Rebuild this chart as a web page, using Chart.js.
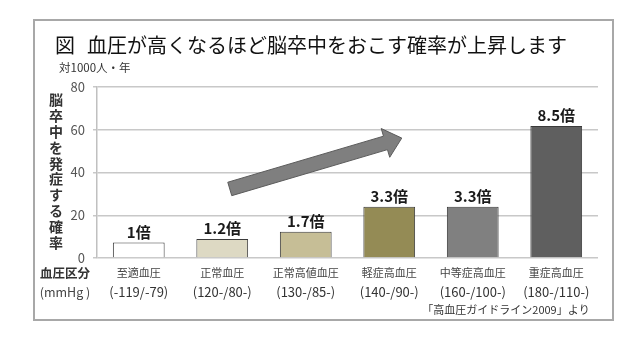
<!DOCTYPE html>
<html lang="ja">
<head>
<meta charset="utf-8">
<title>血圧と脳卒中の発症率</title>
<script src="https://cdn.jsdelivr.net/npm/chart.js@4.4.1/dist/chart.umd.min.js"></script>
<style>
  html, body { margin: 0; padding: 0; background: #fff; }
  #wrap { position: relative; width: 640px; height: 343px; }
</style>
</head>
<body>
<div id="wrap"><canvas id="c" width="640" height="343"></canvas></div>
<script>
// 血圧区分ごとの脳卒中発症率（対1000人・年）
const categories = ["至適血圧", "正常血圧", "正常高値血圧", "軽症高血圧", "中等症高血圧", "重症高血圧"];
const ranges = ["(-119/-79)", "(120-/80-)", "(130-/85-)", "(140-/90-)", "(160-/100-)", "(180-/110-)"];
const rates = [7.2, 8.9, 12.3, 24.0, 24.0, 61.7];
const ratioLabels = ["1倍", "1.2倍", "1.7倍", "3.3倍", "3.3倍", "8.5倍"];
const barColors = ["#ffffff", "#ddd9c3", "#c6be96", "#948b55", "#808080", "#5f5f5f"];
const yTicks = [0, 20, 40, 60, 80];

// 上昇傾向を示す矢印（カテゴリ位置, 値）
const arrowFrom = [1.09, 32.3];
const arrowTo = [3.15, 56.1];

const FONT = "'Noto Sans CJK JP', 'Noto Sans', sans-serif";
Chart.defaults.font.family = FONT;

function txt(ctx, s, x, y, size, opts = {}) {
  ctx.save();
  ctx.font = `${opts.bold ? "bold " : ""}${size}px ${FONT}`;
  ctx.fillStyle = opts.color || "#222";
  ctx.textAlign = opts.align || "left";
  ctx.textBaseline = opts.baseline || "middle";
  ctx.fillText(s, x, y);
  ctx.restore();
}

const frame = {
  id: "frame",
  beforeDraw(chart) {
    const ctx = chart.ctx;
    ctx.save();
    ctx.fillStyle = "#fff";
    ctx.fillRect(0, 0, chart.width, chart.height);
    ctx.strokeStyle = "#a8a8a8";
    ctx.lineWidth = 2;
    ctx.strokeRect(34, 20, 579, 300);
    ctx.restore();

    txt(ctx, "図", 55, 45, 20, { color: "#111" });
    txt(ctx, "血圧が高くなるほど脳卒中をおこす確率が上昇します", 87, 45, 20, { color: "#111" });
    txt(ctx, "対1000人・年", 59, 68, 11.5, { color: "#333" });

    // 縦書きの軸タイトル
    const yTitle = "脳卒中を発症する確率";
    [...yTitle].forEach((ch, i) => {
      txt(ctx, ch, 56, 100 + i * 15.8, 14, { bold: true, align: "center", color: "#333" });
    });
  },
  afterDraw(chart) {
    const ctx = chart.ctx;
    const x = chart.scales.x;
    const bottom = chart.chartArea.bottom;

    txt(ctx, "血圧区分", 65, bottom + 15, 12.5, { bold: true, align: "center", color: "#333" });
    txt(ctx, "(mmHg )", 65, bottom + 34, 12.5, { align: "center", color: "#444" });

    categories.forEach((name, i) => {
      const px = x.getPixelForValue(i);
      txt(ctx, name, px, bottom + 15, 11, { align: "center", color: "#444" });
      txt(ctx, ranges[i], px, bottom + 34, 13, { align: "center", color: "#333" });
    });

    txt(ctx, "「高血圧ガイドライン2009」より", 506, bottom + 52, 11, { align: "center", color: "#333" });
  }
};

const arrow = {
  id: "arrow",
  afterDatasetsDraw(chart) {
    const { ctx, scales: { x, y } } = chart;
    const x0 = x.getPixelForValue(arrowFrom[0]), y0 = y.getPixelForValue(arrowFrom[1]);
    const x1 = x.getPixelForValue(arrowTo[0]), y1 = y.getPixelForValue(arrowTo[1]);
    const len = Math.hypot(x1 - x0, y1 - y0);
    const ux = (x1 - x0) / len, uy = (y1 - y0) / len;
    const nx = -uy, ny = ux;
    const shaft = 7, head = 15, headLen = 17;
    const bx = x1 - ux * headLen, by = y1 - uy * headLen;
    const pts = [
      [x0 + nx * shaft, y0 + ny * shaft],
      [bx + nx * shaft, by + ny * shaft],
      [bx + nx * head, by + ny * head],
      [x1, y1],
      [bx - nx * head, by - ny * head],
      [bx - nx * shaft, by - ny * shaft],
      [x0 - nx * shaft, y0 - ny * shaft]
    ];
    ctx.save();
    ctx.beginPath();
    pts.forEach(([px, py], i) => (i ? ctx.lineTo(px, py) : ctx.moveTo(px, py)));
    ctx.closePath();
    ctx.fillStyle = "#7f7f7f";
    ctx.strokeStyle = "#5c5c5c";
    ctx.lineWidth = 1;
    ctx.fill();
    ctx.stroke();
    ctx.restore();
  }
};

const barLabels = {
  id: "barLabels",
  afterDatasetsDraw(chart) {
    const meta = chart.getDatasetMeta(0);
    meta.data.forEach((bar, i) => {
      txt(chart.ctx, ratioLabels[i], bar.x, bar.y - 3, 15, {
        bold: true, align: "center", baseline: "bottom", color: "#1a1a1a"
      });
    });
  }
};

new Chart(document.getElementById("c"), {
  type: "bar",
  data: {
    labels: categories,
    datasets: [{
      data: rates,
      backgroundColor: barColors,
      borderColor: "#3a3a3a",
      borderWidth: 1,
      categoryPercentage: 0.62,
      barPercentage: 1
    }]
  },
  options: {
    responsive: false,
    animation: false,
    events: [],
    layout: { padding: { left: 0, right: 42, top: 87, bottom: 0 } },
    plugins: { legend: { display: false }, tooltip: { enabled: false } },
    scales: {
      x: {
        grid: { display: false, drawTicks: false },
        border: { display: false },
        ticks: { display: false },
        afterFit(s) { s.height = 85; }
      },
      y: {
        min: 0,
        max: 80,
        afterBuildTicks(s) { s.ticks = yTicks.map(v => ({ value: v })); },
        grid: { color: "#c8c8c8", lineWidth: 1.5, tickLength: 4 },
        border: { display: true, color: "#c0c0c0", width: 1.5 },
        ticks: { color: "#555", font: { size: 13 }, padding: 8 },
        afterFit(s) { s.width = 97; }
      }
    }
  },
  plugins: [frame, arrow, barLabels]
});
</script>
</body>
</html>
